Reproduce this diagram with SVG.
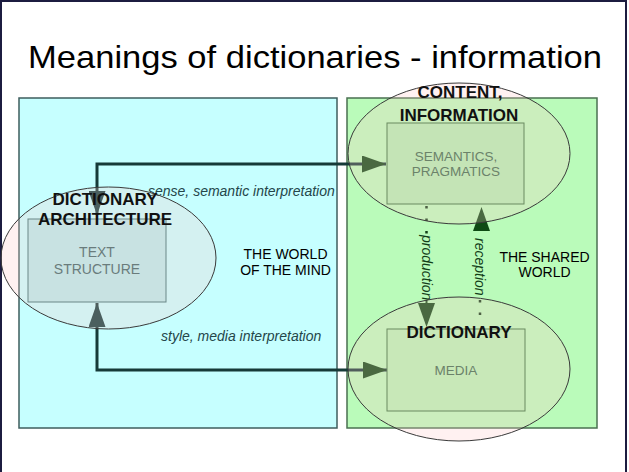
<svg xmlns="http://www.w3.org/2000/svg" width="629" height="472" viewBox="0 0 629 472">
<defs>
<style>
.t{font-family:"Liberation Sans",Arial,sans-serif;}
.title{font-size:32px;fill:#000;}
.big{font-size:17px;font-weight:bold;fill:#111;}
.inner{font-size:14px;fill:#6a7c7c;}
.innerg{font-size:13.5px;fill:#6b826a;}
.world{font-size:14px;fill:#000;}
.ital{font-size:14px;font-style:italic;fill:#24464a;}
.vert{font-size:14px;font-style:italic;fill:#123e18;}
.conn{fill:none;stroke:#163a38;stroke-width:3;}
.dots{fill:none;stroke:#123e18;stroke-width:2.5;stroke-dasharray:2.5 10;}
.ell{fill:#ffc8c8;fill-opacity:0.25;stroke:#3a3a3a;stroke-width:1;}
</style>
<marker id="ahS" markerUnits="userSpaceOnUse" markerWidth="24" markerHeight="17" viewBox="0 0 24 17" refX="24" refY="8.5" orient="auto-start-reverse">
<path d="M0,0 L24,8.5 L0,17 Z" fill="#0f3c3c"/>
</marker>
<marker id="ahG" markerUnits="userSpaceOnUse" markerWidth="24" markerHeight="17" viewBox="0 0 24 17" refX="24" refY="8.5" orient="auto-start-reverse">
<path d="M0,0 L24,8.5 L0,17 Z" fill="#0e4a14"/>
</marker>
</defs>
<rect x="0" y="0" width="629" height="472" fill="#fff"/>
<path d="M1,472 V1 H626 V472" fill="none" stroke="#1c1c40" stroke-width="2"/>
<text class="t title" x="28" y="68" textLength="574" lengthAdjust="spacingAndGlyphs">Meanings of dictionaries - information</text>

<g id="mind-world">
<rect x="19" y="98" width="318" height="330" fill="#c6ffff" stroke="#3e5e5e" stroke-width="1.5"/>
</g>
<g id="shared-world">
<rect x="347" y="98" width="250" height="330" fill="#bafbba" stroke="#4a7050" stroke-width="1.5"/>
</g>

<g id="connectors">
<path class="conn" d="M97,215 V164 H386" marker-start="url(#ahS)" marker-end="url(#ahG)"/>
<path class="conn" d="M97,303 V370 H387" marker-start="url(#ahS)" marker-end="url(#ahG)"/>
<line class="dots" x1="426.5" y1="206" x2="426.5" y2="234"/>
<line x1="426.5" y1="300" x2="426.5" y2="327" stroke="none" marker-end="url(#ahG)"/>
<line x1="426.5" y1="300" x2="426.5" y2="306" stroke="#0e4a14" stroke-width="2"/>
<line x1="481.5" y1="231" x2="481.5" y2="207" stroke="none" marker-end="url(#ahG)"/>
<line class="dots" x1="480" y1="300" x2="480" y2="320"/>
<text class="t vert" transform="translate(422,235) rotate(90)">production</text>
<text class="t vert" transform="translate(475,238) rotate(90)">reception</text>
<text class="t ital" x="148" y="195.5">sense, semantic interpretation</text>
<text class="t ital" x="161" y="340.5">style, media interpretation</text>
</g>

<g id="dictionary-architecture">
<ellipse class="ell" cx="108.5" cy="258" rx="107.5" ry="71"/>
<rect x="28" y="219" width="138" height="83" fill="#c8e2e2" stroke="#6a8888" stroke-width="1"/>
<text class="t inner" x="97" y="257" text-anchor="middle">TEXT</text>
<text class="t inner" x="97" y="274" text-anchor="middle">STRUCTURE</text>
<text class="t big" x="105" y="205" text-anchor="middle">DICTIONARY</text>
<text class="t big" x="105" y="225" text-anchor="middle">ARCHITECTURE</text>
</g>

<g id="content-information">
<ellipse class="ell" cx="459" cy="153.5" rx="111" ry="70.5"/>
<rect x="387" y="123" width="137" height="81" fill="#c4e4b6" stroke="#6a8a60" stroke-width="1"/>
<text class="t innerg" x="456" y="160.5" text-anchor="middle">SEMANTICS,</text>
<text class="t innerg" x="456" y="176" text-anchor="middle">PRAGMATICS</text>
<text class="t big" x="460" y="98" text-anchor="middle">CONTENT,</text>
<text class="t big" x="459" y="120.5" text-anchor="middle">INFORMATION</text>
</g>

<g id="dictionary-media">
<ellipse class="ell" cx="459" cy="369" rx="111" ry="72"/>
<rect x="387" y="329" width="138" height="82" fill="#c8e8b8" stroke="#6a8a60" stroke-width="1"/>
<text class="t innerg" x="456" y="375" text-anchor="middle">MEDIA</text>
<text class="t big" x="459" y="338" text-anchor="middle">DICTIONARY</text>
</g>

<g id="labels">
<text class="t world" x="285.5" y="259" text-anchor="middle">THE WORLD</text>
<text class="t world" x="285.5" y="275" text-anchor="middle">OF THE MIND</text>
<text class="t world" x="544.5" y="261.5" text-anchor="middle">THE SHARED</text>
<text class="t world" x="544.5" y="276.5" text-anchor="middle">WORLD</text>
</g>
</svg>
